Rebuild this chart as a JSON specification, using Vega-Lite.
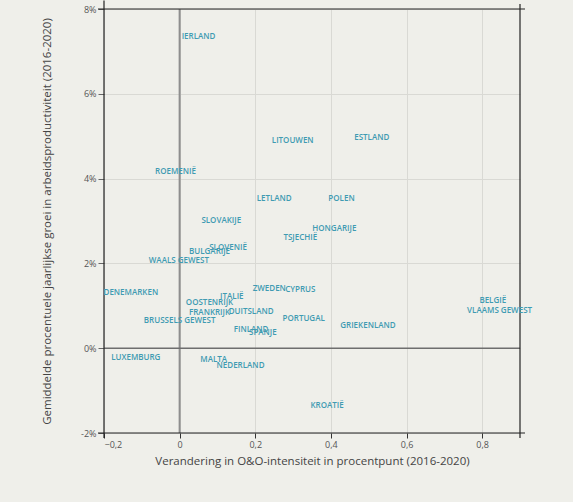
{
  "$schema": "https://vega.github.io/schema/vega-lite/v6.json",
  "width": 416,
  "height": 424,
  "autosize": {"type": "none"},
  "padding": {"left": 104, "top": 9, "right": 53, "bottom": 69},
  "background": "#efefea",
  "config": {"view": {"stroke": null}, "font": "Open Sans"},
  "datasets": {
    "landen": [
      {"land": "IERLAND", "x": 0.05, "y": 7.33},
      {"land": "LITOUWEN", "x": 0.299, "y": 4.88},
      {"land": "ESTLAND", "x": 0.508, "y": 4.96},
      {"land": "ROEMENIË", "x": -0.011, "y": 4.15},
      {"land": "LETLAND", "x": 0.25, "y": 3.53},
      {"land": "POLEN", "x": 0.428, "y": 3.53},
      {"land": "HONGARIJE", "x": 0.409, "y": 2.8},
      {"land": "TSJECHIË", "x": 0.319, "y": 2.61},
      {"land": "SLOVAKIJE", "x": 0.11, "y": 2.99},
      {"land": "SLOVENIË", "x": 0.128, "y": 2.37},
      {"land": "BULGARIJE", "x": 0.079, "y": 2.27},
      {"land": "WAALS GEWEST", "x": -0.002, "y": 2.05},
      {"land": "DENEMARKEN", "x": -0.129, "y": 1.3},
      {"land": "ITALIË", "x": 0.138, "y": 1.21},
      {"land": "OOSTENRIJK", "x": 0.079, "y": 1.07},
      {"land": "ZWEDEN", "x": 0.237, "y": 1.39},
      {"land": "CYPRUS", "x": 0.319, "y": 1.37},
      {"land": "FRANKRIJK", "x": 0.079, "y": 0.83},
      {"land": "DUITSLAND", "x": 0.189, "y": 0.85},
      {"land": "BRUSSELS GEWEST", "x": 0.0, "y": 0.65},
      {"land": "PORTUGAL", "x": 0.328, "y": 0.68},
      {"land": "FINLAND", "x": 0.189, "y": 0.44},
      {"land": "SPANJE", "x": 0.22, "y": 0.36},
      {"land": "GRIEKENLAND", "x": 0.498, "y": 0.53},
      {"land": "BELGIË", "x": 0.828, "y": 1.11},
      {"land": "VLAAMS GEWEST", "x": 0.846, "y": 0.87},
      {"land": "LUXEMBURG", "x": -0.116, "y": -0.24},
      {"land": "MALTA", "x": 0.09, "y": -0.27},
      {"land": "NEDERLAND", "x": 0.161, "y": -0.42},
      {"land": "KROATIË", "x": 0.39, "y": -1.37}
    ],
    "frame": [
      {"x": -0.2158, "x2": 0.9132, "y": 8, "y2": 8},
      {"x": -0.2158, "x2": 0.9132, "y": -2, "y2": -2},
      {"x": -0.2, "x2": -0.2, "y": -2.12, "y2": 8.2},
      {"x": 0.9, "x2": 0.9, "y": -2.12, "y2": 8.12}
    ],
    "nul": [
      {"x": 0, "x2": 0, "y": -2, "y2": 8, "soort": "v"},
      {"x": -0.2, "x2": 0.9, "y": 0, "y2": 0, "soort": "h"}
    ]
  },
  "encoding": {
    "x": {
      "field": "x", "type": "quantitative",
      "scale": {"domain": [-0.2, 0.9], "nice": false, "zero": false},
      "axis": {
        "values": [-0.2, 0, 0.2, 0.4, 0.6, 0.8],
        "labelExpr": "datum.value == 0 ? '0' : replace(format(datum.value, '.1f'), '.', ',')",
        "grid": true, "gridColor": "#d9d9d4", "gridWidth": 1,
        "domain": false, "tickColor": "#333", "tickSize": 5,
        "labelFontSize": 9, "labelColor": "#555", "labelPadding": 2,
        "title": "Verandering in O&O-intensiteit in procentpunt (2016-2020)",
        "titleFontSize": 11.5, "titleFontWeight": "normal", "titleColor": "#444", "titlePadding": 6
      }
    },
    "y": {
      "field": "y", "type": "quantitative",
      "scale": {"domain": [-2, 8], "nice": false, "zero": false},
      "axis": {
        "values": [-2, 0, 2, 4, 6, 8],
        "labelExpr": "datum.value + '%'",
        "grid": true, "gridColor": "#d9d9d4", "gridWidth": 1,
        "domain": false, "tickColor": "#666", "tickSize": 6,
        "labelFontSize": 9, "labelColor": "#555", "labelPadding": 2,
        "title": "Gemiddelde procentuele jaarlijkse groei in arbeidsproductiviteit (2016-2020)",
        "titleFontSize": 11.5, "titleFontWeight": "normal", "titleColor": "#444", "titlePadding": 28
      }
    }
  },
  "layer": [
    {
      "data": {"name": "nul"},
      "mark": {"type": "rule"},
      "encoding": {
        "x2": {"field": "x2"},
        "y2": {"field": "y2"},
        "strokeWidth": {"field": "soort", "type": "nominal", "scale": {"domain": ["v", "h"], "range": [2, 1.5]}, "legend": null},
        "color": {"field": "soort", "type": "nominal", "scale": {"domain": ["v", "h"], "range": ["#8e8e8e", "#6e6e6e"]}, "legend": null}
      }
    },
    {
      "data": {"name": "frame"},
      "mark": {"type": "rule", "color": "#222", "strokeWidth": 1.2},
      "encoding": {
        "x2": {"field": "x2"},
        "y2": {"field": "y2"}
      }
    },
    {
      "data": {"name": "landen"},
      "mark": {"type": "text", "color": "#3f9bb2", "fontSize": 8, "fontWeight": 600, "font": "Open Sans", "align": "center", "baseline": "middle"},
      "encoding": {
        "text": {"field": "land"}
      }
    }
  ]
}
